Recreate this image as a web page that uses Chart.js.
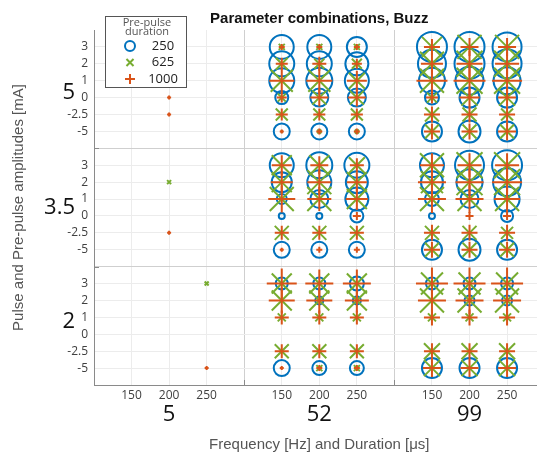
<!DOCTYPE html>
<html>
<head>
<meta charset="utf-8">
<script src="https://cdn.jsdelivr.net/npm/chart.js@4.4.1/dist/chart.umd.min.js"></script>
<style>
  html, body { margin: 0; padding: 0; background: #fff; overflow: hidden; }
  /* wider than the window: the bubble overflow padding eats the right side */
  #wrap { position: relative; width: 565px; height: 461px; }
</style>
</head>
<body>
<div id="wrap"><canvas id="chart"></canvas></div>
<script>
const frequencies = [150, 200, 250];
const durations = [5, 52, 99];
const pulseAmplitudes = [5, 3.5, 2];
const prepulseAmplitudes = [3, 2, 1, 0, -2.5, -5];
const prepulseDurations = [250, 625, 1000];

// marker sizes
// [pulse amplitude panel][pre-pulse row][duration x frequency column]
const size250 = [
    [
        [0, 0, 0, 12, 12, 10, 15, 15, 14.5],
        [0, 0, 0, 12.5, 12.5, 11.5, 14, 15, 14.5],
        [0, 0, 0, 12.5, 13, 12, 13, 14, 13.5],
        [0, 0, 0, 6.5, 9, 9, 7, 10, 10],
        [0, 0, 0, 0, 0, 0, 0, 0, 0],
        [0, 0, 0, 8, 8, 8, 10, 11, 10]
    ],
    [
        [0, 0, 0, 12, 13, 12.5, 12, 14.5, 15],
        [0, 0, 0, 10, 12, 11, 11, 13, 14],
        [0, 0, 0, 5, 9, 11.5, 7, 9, 12.5],
        [0, 0, 0, 3, 3, 6.5, 3, 0, 6],
        [0, 0, 0, 0, 0, 0, 0, 0, 0],
        [0, 0, 0, 8, 8, 8, 10, 11, 10]
    ],
    [
        [0, 0, 0, 6, 6, 7, 6, 6, 6],
        [0, 0, 0, 0, 4, 4, 0, 5, 5],
        [0, 0, 0, 0, 0, 0, 0, 0, 0],
        [0, 0, 0, 0, 0, 0, 0, 0, 0],
        [0, 0, 0, 0, 0, 0, 0, 0, 0],
        [0, 0, 0, 8, 7, 7, 10, 10, 10]
    ]
];

const size625 = [
    [
        [0, 0, 0, 3, 3, 3, 10, 12, 12],
        [0, 0, 0, 6, 5, 5, 12, 13, 13],
        [0, 0, 0, 11, 11, 8, 12, 13, 13],
        [0, 0, 0, 4, 7, 7, 5, 8, 8],
        [0, 0, 0, 6, 6, 6, 7, 7, 6],
        [0, 0, 0, 1, 2, 2, 7, 7, 7]
    ],
    [
        [0, 0, 0, 10, 10, 8, 12, 13, 13],
        [0, 2, 0, 10, 12, 10, 11, 13, 13],
        [0, 0, 0, 12, 12, 10, 12, 12, 12],
        [0, 0, 0, 0, 0, 0, 0, 0, 0],
        [0, 0, 0, 7, 7, 7, 7, 7, 6],
        [0, 0, 0, 0, 0, 0, 7, 7, 7]
    ],
    [
        [0, 0, 2, 10, 10, 10, 11, 11, 11],
        [0, 0, 0, 10, 10, 10, 12, 12, 12],
        [0, 0, 0, 4, 4, 4, 4, 4, 4],
        [0, 0, 0, 0, 0, 0, 0, 0, 0],
        [0, 0, 0, 7, 7, 7, 8, 8, 8],
        [0, 0, 0, 0, 3, 3, 8, 8, 8]
    ]
];

const size1000 = [
    [
        [0, 0, 0, 3, 3, 3, 8, 9, 9],
        [0, 0, 0, 6, 7, 5, 11, 13, 12],
        [0, 0, 0, 12.5, 13, 10, 15.5, 16, 15],
        [0, 2, 0, 5, 9, 9, 6, 10, 9],
        [0, 2, 0, 6, 6, 6, 8, 8, 8],
        [0, 0, 0, 2, 3, 3, 8, 8, 9]
    ],
    [
        [0, 0, 0, 10, 9, 7, 12, 12, 12],
        [0, 0, 0, 11, 12, 10, 14, 14, 15],
        [0, 0, 0, 13.5, 12, 11, 14, 14, 13],
        [0, 0, 0, 0, 0, 4, 0, 4, 4],
        [0, 2, 0, 7, 7, 7, 8, 8, 8],
        [0, 0, 0, 2, 3, 3, 8, 8, 8]
    ],
    [
        [0, 0, 0, 15, 14, 14, 16, 16, 16],
        [0, 0, 0, 13, 13, 12, 14, 14, 14],
        [0, 0, 0, 7, 7, 7, 8, 8, 8],
        [0, 0, 0, 0, 0, 0, 0, 0, 0],
        [0, 0, 0, 7, 7, 7, 8, 8, 8],
        [0, 0, 2, 2, 3, 3, 9, 9, 9]
    ]
];

const BLUE = '#0072BD';
const GREEN = '#77AC30';
const ORANGE = '#D95319';

// each duration block is 4 units wide on x, each pulse panel 7 units tall on y
function toPoints(sizes, factor) {
    const pts = [];
    sizes.forEach((panel, p) => {
        panel.forEach((row, k) => {
            row.forEach((s, c) => {
                if (!s) return;
                const g = Math.floor(c / frequencies.length);
                const j = c % frequencies.length;
                pts.push({
                    x: g * 4 + j + 1,
                    y: (pulseAmplitudes.length - 1 - p) * 7 + (prepulseAmplitudes.length - k),
                    r: s * factor
                });
            });
        });
    });
    return pts;
}

const xTicks = Array.from({ length: 11 }, (_, i) => i + 1);
const yTicks = Array.from({ length: 20 }, (_, i) => i + 1);

const labelShift = [3.3, 3.5, 3.75];

const extraText = {
    id: 'extraText',
    afterDraw(chart) {
        const ctx = chart.ctx;
        const xs = chart.scales.x;
        const ys = chart.scales.y;
        ctx.save();
        ctx.fillStyle = '#111';
        ctx.font = '22px "Open Sans"';
        ctx.textBaseline = 'middle';

        // pulse amplitude labels
        ctx.textAlign = 'right';
        pulseAmplitudes.forEach((a, p) => {
            const y = ys.getPixelForValue((pulseAmplitudes.length - 1 - p) * 7 + labelShift[p]);
            ctx.fillText(String(a), 75, y);
        });

        // duration labels
        ctx.textAlign = 'center';
        durations.forEach((d, g) => {
            ctx.fillText(String(d), xs.getPixelForValue(g * 4 + 2), 415);
        });

        // small inward tick marks at the block separators
        ctx.strokeStyle = '#8a8a8a';
        ctx.lineWidth = 1;
        ctx.beginPath();
        [4, 8].forEach(v => {
            const x = Math.round(xs.getPixelForValue(v)) + 0.5;
            ctx.moveTo(x, ys.bottom);
            ctx.lineTo(x, ys.bottom - 5);
        });
        [7, 14].forEach(v => {
            const y = Math.round(ys.getPixelForValue(v)) + 0.5;
            ctx.moveTo(xs.left, y);
            ctx.lineTo(xs.left + 5, y);
        });
        ctx.stroke();

        // legend box
        const bx = 105.5, by = 16.5, bw = 81, bh = 71;
        ctx.fillStyle = '#fff';
        ctx.fillRect(bx, by, bw, bh);
        ctx.strokeStyle = '#555';
        ctx.strokeRect(bx, by, bw, bh);

        ctx.fillStyle = '#555';
        ctx.font = '11px "Open Sans"';
        ctx.textAlign = 'center';
        ctx.fillText('Pre-pulse', 147, 23);
        ctx.fillText('duration', 147, 32);

        const styles = [
            { pointStyle: 'circle', radius: 5, color: BLUE },
            { pointStyle: 'crossRot', radius: 5, color: GREEN },
            { pointStyle: 'cross', radius: 5, color: ORANGE }
        ];
        const rowsY = [46, 62.5, 79];
        prepulseDurations.forEach((d, i) => {
            ctx.strokeStyle = styles[i].color;
            ctx.fillStyle = 'rgba(0,0,0,0)';
            ctx.lineWidth = 2;
            Chart.helpers.drawPoint(ctx, {
                pointStyle: styles[i].pointStyle,
                radius: styles[i].radius,
                rotation: 0,
                borderWidth: 2
            }, 130, rowsY[i]);
            ctx.fillStyle = '#222';
            ctx.font = '13px "Open Sans"';
            ctx.textAlign = 'center';
            ctx.fillText(String(d), 163, rowsY[i]);
        });
        ctx.restore();
    }
};

const ctx = document.getElementById('chart');

const chart = new Chart(ctx, {
    type: 'bubble',
    data: {
        datasets: [
            {
                label: String(prepulseDurations[0]),
                data: toPoints(size250, 1),
                pointStyle: 'circle',
                borderColor: BLUE,
                backgroundColor: 'rgba(0,0,0,0)',
                borderWidth: 2,
                order: 2
            },
            {
                label: String(prepulseDurations[1]),
                data: toPoints(size625, Math.SQRT2),
                pointStyle: 'crossRot',
                borderColor: GREEN,
                backgroundColor: 'rgba(0,0,0,0)',
                borderWidth: 2,
                order: 1
            },
            {
                label: String(prepulseDurations[2]),
                data: toPoints(size1000, 1),
                pointStyle: 'cross',
                borderColor: ORANGE,
                backgroundColor: 'rgba(0,0,0,0)',
                borderWidth: 2,
                order: 0
            }
        ]
    },
    options: {
        responsive: true,
        maintainAspectRatio: false,
        animation: false,
        events: [],
        clip: false,
        layout: { padding: 0 },
        plugins: {
            legend: { display: false },
            tooltip: { enabled: false },
            title: {
                display: true,
                fullSize: false,
                text: 'Parameter combinations, Buzz',
                color: '#111',
                font: { family: '"Liberation Sans", Arial, sans-serif', size: 15, weight: 'bold' },
                padding: { top: 10, bottom: 2 }
            }
        },
        scales: {
            x: {
                type: 'linear',
                min: 0,
                max: 12,
                afterBuildTicks: scale => { scale.ticks = xTicks.map(v => ({ value: v })); },
                afterFit: scale => { scale.height = 76; },
                grid: {
                    drawTicks: false,
                    color: c => (c.tick && c.tick.value % 4 === 0) ? '#cfcfcf' : '#ececec'
                },
                border: { color: '#8a8a8a' },
                ticks: {
                    padding: 3,
                    autoSkip: false,
                    maxRotation: 0,
                    color: '#404040',
                    font: { family: '"Open Sans"', size: 12 },
                    callback: v => v % 4 === 0 ? '' : String(frequencies[v % 4 - 1])
                },
                title: {
                    display: true,
                    text: 'Frequency [Hz] and Duration [μs]',
                    color: '#555',
                    font: { family: '"Liberation Sans", Arial, sans-serif', size: 15 },
                    padding: { top: 0, bottom: 7 }
                }
            },
            y: {
                type: 'linear',
                min: 0,
                max: 21,
                afterBuildTicks: scale => { scale.ticks = yTicks.map(v => ({ value: v })); },
                afterFit: scale => { scale.width = 94; },
                grid: {
                    drawTicks: false,
                    color: c => (c.tick && c.tick.value % 7 === 0) ? '#cfcfcf' : '#ececec'
                },
                border: { color: '#8a8a8a' },
                ticks: {
                    padding: 6,
                    autoSkip: false,
                    color: '#404040',
                    font: { family: '"Open Sans"', size: 12 },
                    callback: v => v % 7 === 0 ? '' : String(prepulseAmplitudes[6 - v % 7])
                },
                title: {
                    display: true,
                    text: 'Pulse and Pre-pulse amplitudes [mA]',
                    color: '#555',
                    font: { family: '"Liberation Sans", Arial, sans-serif', size: 15 },
                    padding: { top: 10, bottom: 0 }
                }
            }
        }
    },
    plugins: [extraText]
});
</script>
</body>
</html>
